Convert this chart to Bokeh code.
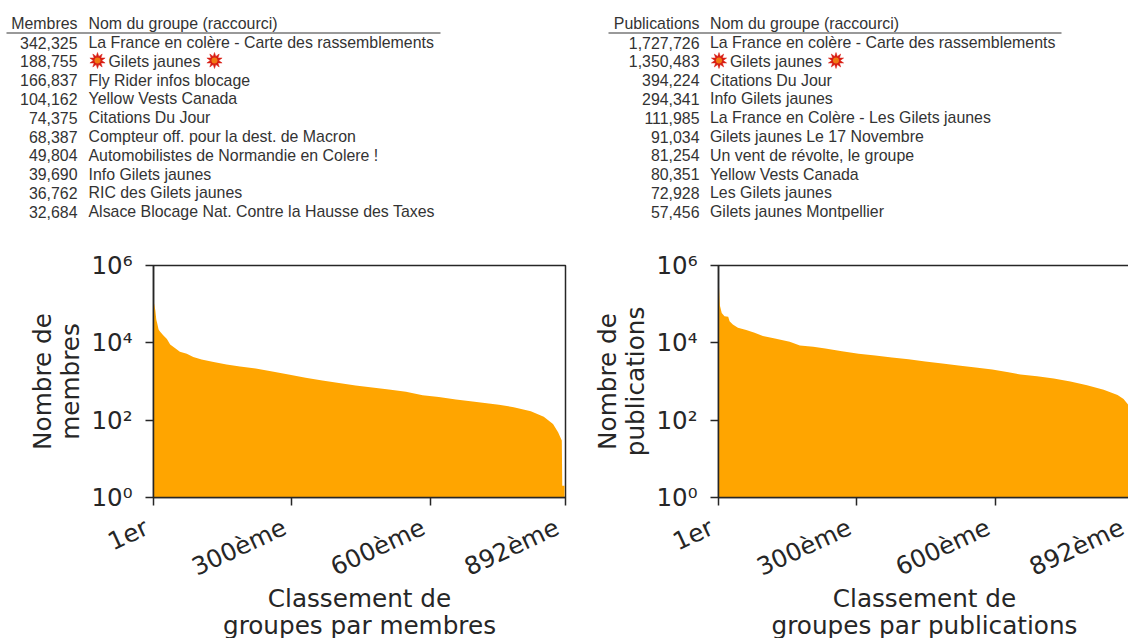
from math import radians
from bokeh.core.properties import value
from bokeh.embed import file_html
from bokeh.layouts import column, row
from bokeh.models import FixedTicker, Range1d
from bokeh.plotting import figure
from bokeh.resources import INLINE

members_counts = ["342,325", "188,755", "166,837", "104,162", "74,375", "68,387", "49,804", "39,690", "36,762", "32,684"]
members_names = ["La France en colère - Carte des rassemblements", "Gilets jaunes", "Fly Rider infos blocage",
                 "Yellow Vests Canada", "Citations Du Jour", "Compteur off. pour la dest. de Macron",
                 "Automobilistes de Normandie en Colere !", "Info Gilets jaunes", "RIC des Gilets jaunes",
                 "Alsace Blocage Nat. Contre la Hausse des Taxes"]
posts_counts = ["1,727,726", "1,350,483", "394,224", "294,341", "111,985", "91,034", "81,254", "80,351", "72,928", "57,456"]
posts_names = ["La France en colère - Carte des rassemblements", "Gilets jaunes", "Citations Du Jour", "Info Gilets jaunes",
               "La France en Colère - Les Gilets jaunes", "Gilets jaunes Le 17 Novembre", "Un vent de révolte, le groupe",
               "Yellow Vests Canada", "Les Gilets jaunes", "Gilets jaunes Montpellier"]

members_rank = [1, 2, 5, 7, 9, 12, 15, 22, 30, 37, 48, 58, 73, 87, 105, 131, 159, 188, 222, 258, 293, 330, 366, 402, 438,
                474, 510, 547, 583, 618, 655, 691, 726, 748, 780, 817, 845, 865, 876, 884, 885, 890]
members_value = [107000, 107000, 69000, 40000, 32000, 22000, 19500, 15800, 12600, 9100, 7200, 5900, 5200, 4300, 3700,
                 3200, 2750, 2450, 2170, 1810, 1520, 1245, 1060, 920, 790, 700, 620, 540, 440, 400, 340, 305, 270, 250,
                 217, 170, 123, 80, 49, 30, 2, 2]
posts_rank = [1, 2, 4, 8, 14, 22, 25, 32, 43, 61, 79, 97, 123, 155, 177, 206, 232, 268, 304, 340, 376, 412, 448, 485, 520,
              557, 593, 628, 654, 690, 726, 762, 798, 834, 864, 877, 888, 892]
posts_value = [290000, 290000, 93000, 59000, 49000, 47000, 36000, 30000, 24500, 21400, 18200, 15100, 13000, 10700, 8500,
               7900, 7100, 6070, 5200, 4700, 4170, 3780, 3290, 2920, 2590, 2300, 2040, 1740, 1510, 1370, 1200, 1000, 800,
               610, 450, 355, 240, 190]

x_ticks = [1, 300, 600, 892]
x_tick_labels = ["1er\u00a0", "300ème\u00a0", "600ème\u00a0", "892ème\u00a0"]
y_ticks = [1, 100, 10000, 1000000]
y_tick_labels = ["10⁰", "10²", "10⁴", "10⁶"]

INK = "#262626"
FILL = "#ffa500"
TABLE_INK = "#333333"
TABLE_FONT = value("Liberation Sans")
ROW_Y = [42, 60.8, 79.6, 98.4, 117, 136, 154.8, 173.6, 192.3, 211]

table = figure(width=1128, height=232, x_range=Range1d(0, 1128), y_range=Range1d(232, 0), output_backend="svg",
               toolbar_location=None, min_border=0)
table.axis.visible = False
table.grid.visible = False
table.outline_line_color = None


def write_table(p, head, counts, names, count_x, name_x, rule_start, rule_end):
    style = dict(text_font=TABLE_FONT, text_font_size="15.9px", text_color=TABLE_INK, text_baseline="middle")
    p.text([count_x], [22.5], text=[head], text_align="right", **style)
    p.text([name_x], [22.5], text=["Nom du groupe (raccourci)"], text_align="left", **style)
    p.segment([rule_start], [32.5], [rule_end], [32.5], line_color="#777777", line_width=1.3)
    p.text([count_x] * 10, ROW_Y, text=counts, text_align="right", **style)
    xs = [name_x + 20 if n == "Gilets jaunes" and i == 1 else name_x for i, n in enumerate(names)]
    p.text(xs, ROW_Y, text=names, text_align="left", **style)
    for bx in (name_x + 9, name_x + 126):
        p.scatter([bx], [60], marker="star", size=16, fill_color="#d81e14", line_color="#d81e14", line_width=0.5)
        p.scatter([bx], [60], marker="star", size=16, angle=radians(36), fill_color="#d81e14", line_color="#d81e14", line_width=0.5)
        p.scatter([bx], [60], marker="circle", size=6, fill_color="#f07a14", line_color=None)


write_table(table, "Membres", members_counts, members_names, 77, 88, 6, 440)
write_table(table, "Publications", posts_counts, posts_names, 699, 709.5, 608, 1061)


def rank_plot(ranks, values, xlabel, ylabel, left_border, margin):
    p = figure(y_axis_type="log", x_range=Range1d(1, 892), y_range=Range1d(1, 1000000), output_backend="svg",
               toolbar_location=None, min_border_left=left_border, min_border_right=5, min_border_top=33,
               min_border_bottom=141, frame_width=412, frame_height=232, margin=margin)
    p.varea(ranks, [1] * len(ranks), values, fill_color=FILL)
    p.grid.visible = False
    p.outline_line_color = INK
    p.outline_line_width = 1.5
    p.xaxis.ticker = FixedTicker(ticks=x_ticks)
    p.xaxis.major_label_overrides = dict(zip(x_ticks, x_tick_labels))
    p.xaxis.major_label_orientation = radians(25)
    p.xaxis.major_label_standoff = 17
    p.xaxis.axis_label_standoff = -14
    p.yaxis.ticker = FixedTicker(ticks=y_ticks)
    p.yaxis.major_label_overrides = dict(zip(y_ticks, y_tick_labels))
    p.yaxis.major_label_standoff = 13
    p.yaxis.axis_label_standoff = 4
    p.xaxis.axis_label = xlabel
    p.yaxis.axis_label = ylabel
    for ax in (p.xaxis[0], p.yaxis[0]):
        ax.axis_line_color = INK
        ax.axis_line_width = 1.5
        ax.major_tick_line_color = INK
        ax.major_tick_line_width = 1.5
        ax.major_tick_out = 8
        ax.major_tick_in = 0
        ax.minor_tick_line_color = None
        ax.major_label_text_font = "DejaVu Sans"
        ax.major_label_text_font_size = "24.5px"
        ax.major_label_text_color = INK
        ax.axis_label_text_font = "DejaVu Sans"
        ax.axis_label_text_font_size = "24.7px"
        ax.axis_label_text_font_style = "normal"
        ax.axis_label_text_color = INK
        ax.axis_label_text_line_height = 0.95
    return p


left = rank_plot(members_rank, members_value, "Classement de\ngroupes par membres", "Nombre de\nmembres", 153, (0, 0, 0, 0))
right = rank_plot(posts_rank, posts_value, "Classement de\ngroupes par publications", "Nombre de\npublications", 100, (0, -7, 0, 19))

plots = row(left, right, spacing=0, margin=0)
page = column(table, plots, spacing=0, margin=0, width=1128, height=638, styles={"overflow": "hidden"})
open("out.html", "w").write(file_html(page, INLINE))
